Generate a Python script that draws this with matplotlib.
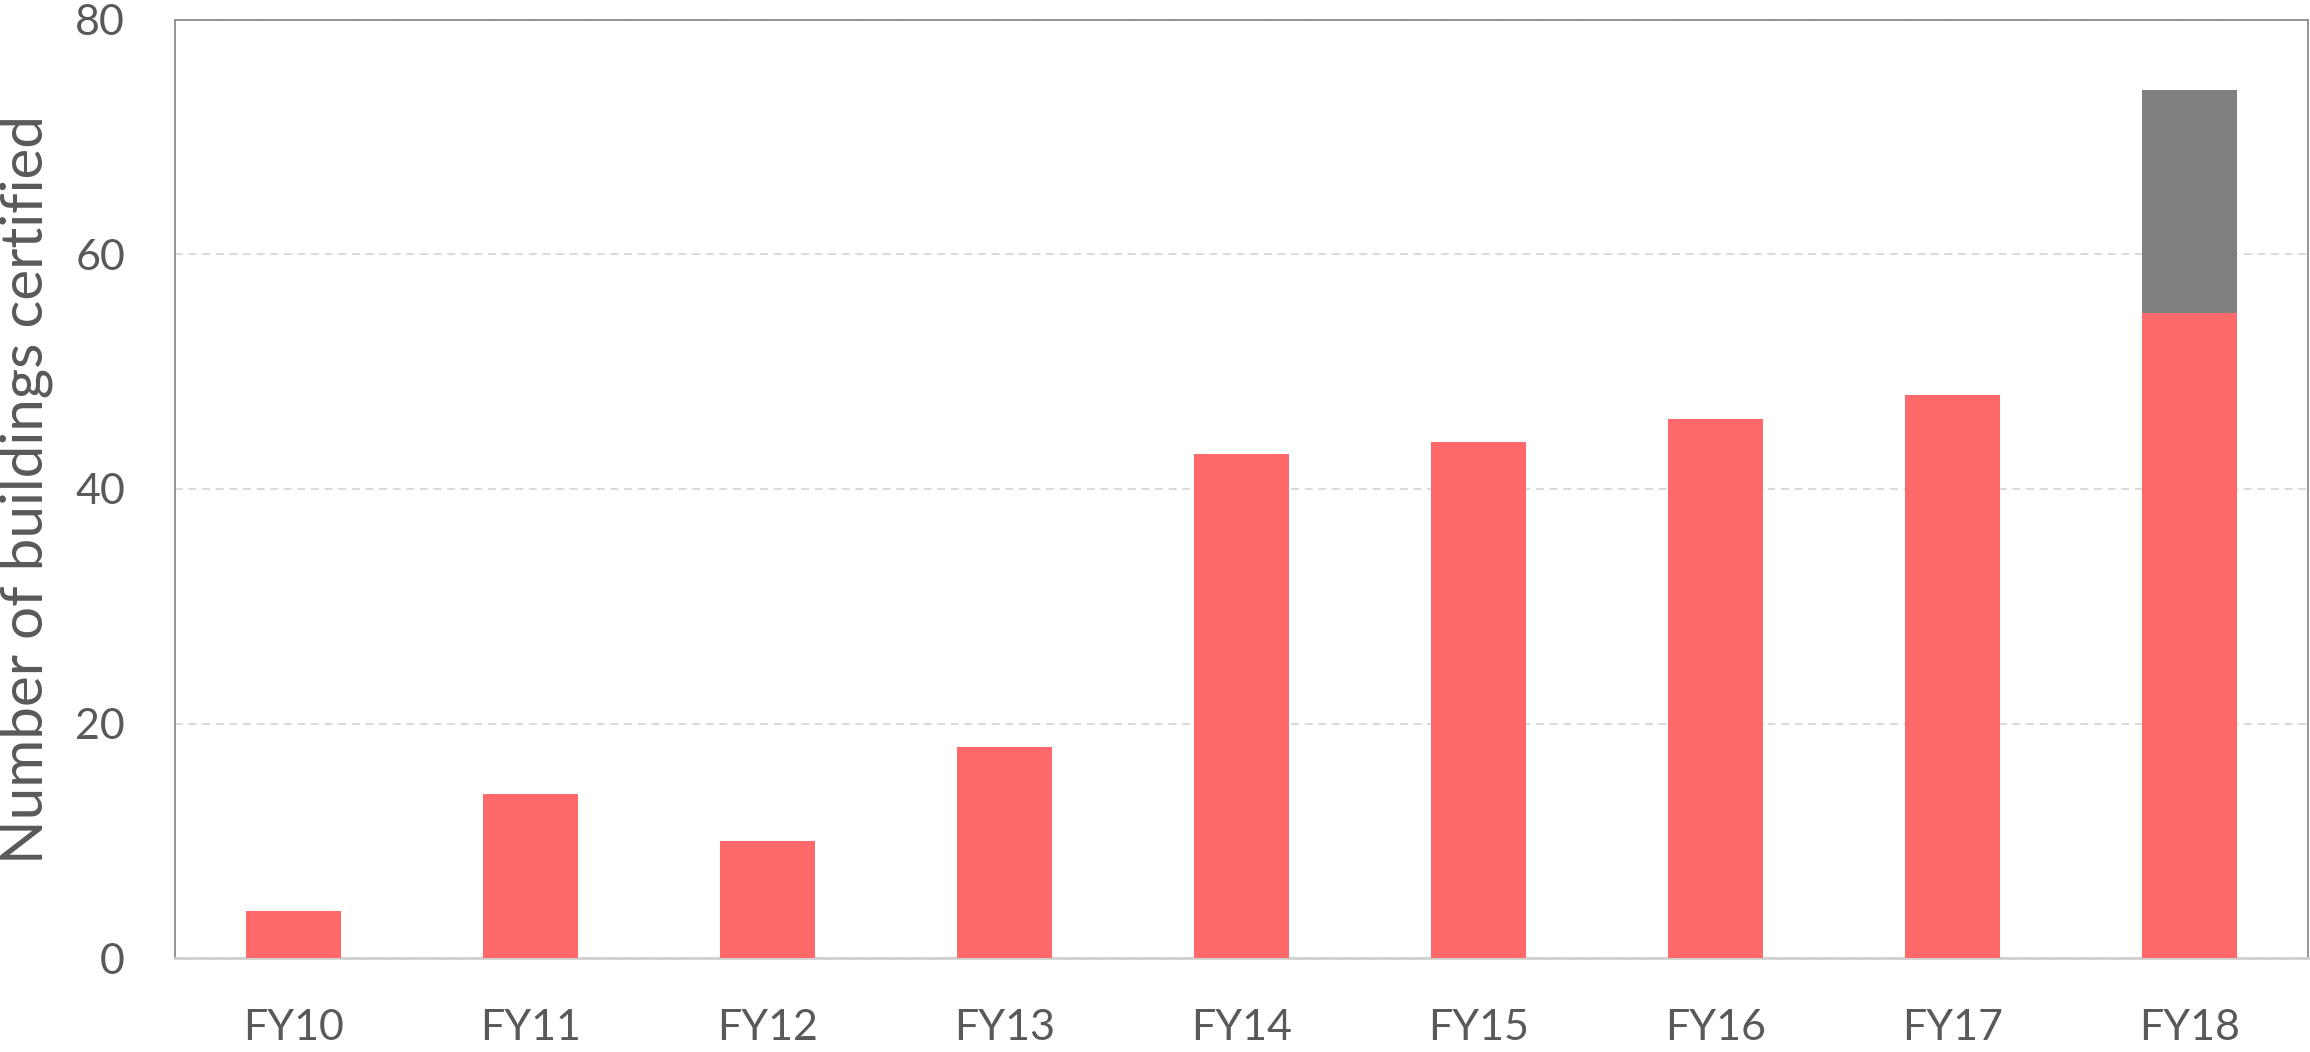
import matplotlib.pyplot as plt
import numpy as np

years = ["FY10", "FY11", "FY12", "FY13", "FY14", "FY15", "FY16", "FY17", "FY18"]
certified = [4, 14, 10, 18, 43, 44, 46, 48, 55]
extra = [0, 0, 0, 0, 0, 0, 0, 0, 19]

plt.rcParams["font.family"] = ["Lato", "DejaVu Sans"]

fig = plt.figure(figsize=(23.1, 10.52), dpi=100)
ax = fig.add_axes([175 / 2310, 1 - 958 / 1052, 2133 / 2310, 938 / 1052])

x = np.arange(len(years))
ax.bar(x, certified, width=0.4, color="#FF6969", zorder=3)
ax.bar(x, extra, width=0.4, bottom=certified, color="#808080", zorder=3)

ax.set_xlim(-0.5, len(years) - 0.5)
ax.set_ylim(0, 80)
ax.set_yticks([0, 20, 40, 60, 80])
ax.set_xticks(x)
ax.set_xticklabels(years)
ax.yaxis.grid(True, color="#d9d9d9", linestyle=(0, (4, 3)), linewidth=1.4, zorder=0)

ax.tick_params(axis="both", length=0, labelsize=31, colors="#595959")
ax.tick_params(axis="y", pad=36)
ax.tick_params(axis="x", pad=37)
ax.set_ylabel("Number of buildings certified", fontsize=42, color="#595959")
ax.yaxis.set_label_coords(-0.057, 0.5)

for side in ["left", "top", "right"]:
    ax.spines[side].set_color("#8c8c8c")
    ax.spines[side].set_linewidth(1.3)
ax.spines["bottom"].set_color("#d0d0d0")
ax.spines["bottom"].set_linewidth(2)

fig.savefig("out.png", dpi=100)
